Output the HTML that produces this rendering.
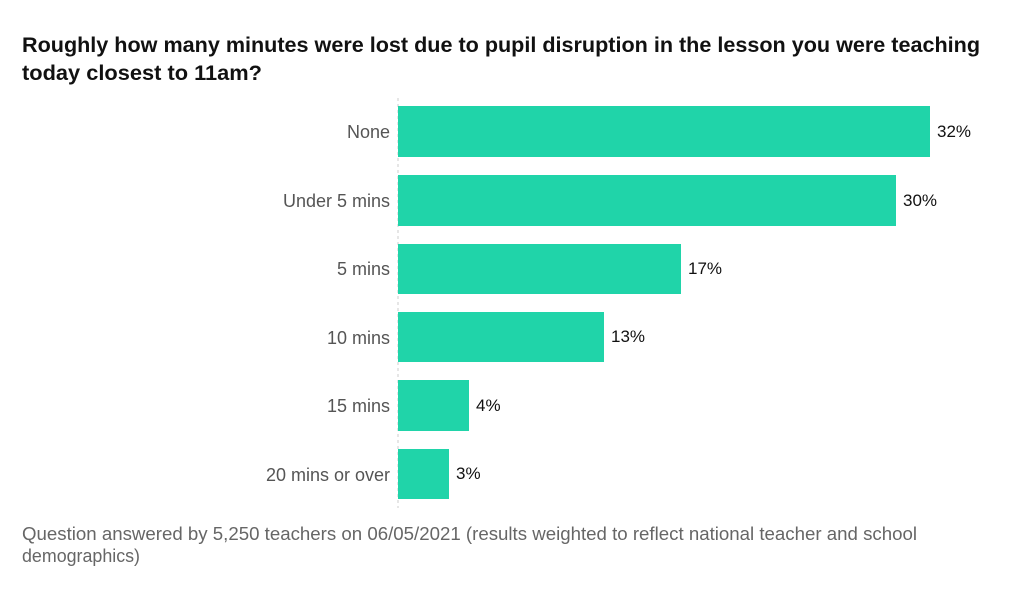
<!DOCTYPE html>
<html><head><meta charset="utf-8"><style>
body{margin:0;width:1024px;height:585px;background:#fff;overflow:hidden;font-family:"Liberation Sans",sans-serif}
</style></head><body>
<svg width="1024" height="585" xmlns="http://www.w3.org/2000/svg" font-family="Liberation Sans, sans-serif">
<text x="22" y="52" font-size="21" font-weight="bold" fill="#111" textLength="958" lengthAdjust="spacingAndGlyphs">Roughly how many minutes were lost due to pupil disruption in the lesson you were teaching</text>
<text x="22" y="80" font-size="21" font-weight="bold" fill="#111" textLength="240" lengthAdjust="spacingAndGlyphs">today closest to 11am?</text>
<line x1="398" y1="98" x2="398" y2="508" stroke="#ccc" stroke-dasharray="3,3"/>
<g fill="#20d4a9">
<rect x="398" y="106" width="532" height="51"/>
<rect x="398" y="175" width="498" height="51"/>
<rect x="398" y="244" width="283" height="50"/>
<rect x="398" y="312" width="206" height="50"/>
<rect x="398" y="380" width="71" height="51"/>
<rect x="398" y="449" width="51" height="50"/>
</g>
<g font-size="18" fill="#555" text-anchor="end">
<text x="390" y="138">None</text>
<text x="390" y="207">Under 5 mins</text>
<text x="390" y="275">5 mins</text>
<text x="390" y="344">10 mins</text>
<text x="390" y="412">15 mins</text>
<text x="390" y="481">20 mins or over</text>
</g>
<g font-size="17" fill="#111">
<text x="937" y="137">32%</text>
<text x="903" y="206">30%</text>
<text x="688" y="274">17%</text>
<text x="611" y="342">13%</text>
<text x="476" y="411">4%</text>
<text x="456" y="479">3%</text>
</g>
<text x="22" y="540" font-size="18" fill="#666" textLength="895" lengthAdjust="spacingAndGlyphs">Question answered by 5,250 teachers on 06/05/2021 (results weighted to reflect national teacher and school</text>
<text x="22" y="562" font-size="18" fill="#666" textLength="118" lengthAdjust="spacingAndGlyphs">demographics)</text>
</svg>
</body></html>
